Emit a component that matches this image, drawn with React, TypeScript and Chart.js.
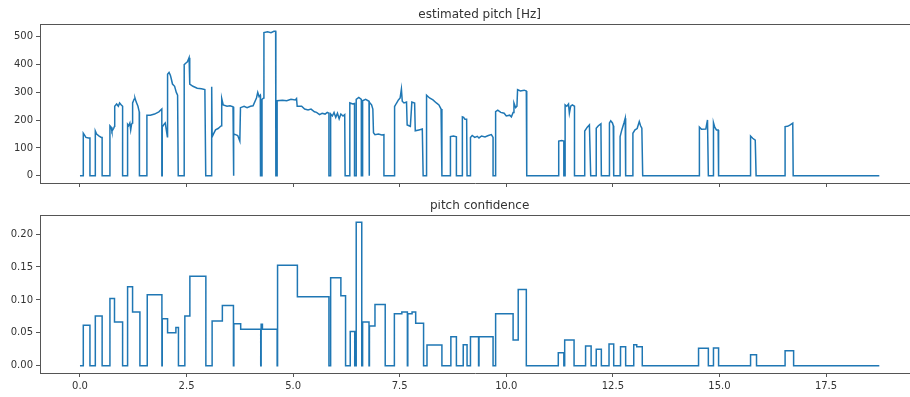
import React, { useEffect, useRef } from "react";
import { Chart, registerables } from "chart.js";

Chart.register(...registerables);

const BLUE = "#1f77b4";
const INK = "#333333";
const SPINE = "#555555";
const FONT_FAMILY = "DejaVu Sans";

// time axis (seconds)
const X_MIN = -0.9375;
const X_VIEW_MAX = 19.47;
const X_AXIS_MAX = 19.6875;
const timeTicks = [0, 2.5, 5, 7.5, 10, 12.5, 15, 17.5];

const pitchTicks = [0, 100, 200, 300, 400, 500];
const PITCH_MIN = -26;
const PITCH_MAX = 546;

const confTicks = [0, 0.05, 0.1, 0.15, 0.2];
const CONF_MIN = -0.0109;
const CONF_MAX = 0.2289;

// estimated pitch contour: time [s] and frequency [Hz], 0 = unvoiced
const pitchTimes = [
  0, 0.078, 0.078, 0.1, 0.14, 0.2, 0.234, 0.234,
  0.36, 0.36, 0.39, 0.45, 0.5, 0.52, 0.52,
  0.703, 0.703, 0.73, 0.75, 0.79, 0.81, 0.815, 0.86, 0.9, 0.93, 0.97, 1.0, 1.0,
  1.117, 1.117, 1.14, 1.17, 1.19, 1.21, 1.23, 1.235, 1.27, 1.29, 1.32, 1.36, 1.39, 1.395,
  1.57, 1.57, 1.65, 1.75, 1.85, 1.92, 1.92, 1.93, 1.93, 1.97, 2.0, 2.05, 2.055, 2.09, 2.12, 2.14, 2.17, 2.22, 2.26, 2.29, 2.305,
  2.445, 2.445, 2.48, 2.52, 2.56, 2.575, 2.65, 2.75, 2.85, 2.93, 2.95,
  3.09, 3.09, 3.1, 3.13, 3.18, 3.24, 3.3, 3.32, 3.325, 3.36, 3.45, 3.52, 3.59, 3.595,
  3.61, 3.61, 3.65, 3.7, 3.75, 3.765, 3.85, 3.92, 4.0, 4.06, 4.14, 4.17, 4.2, 4.23, 4.235,
  4.27, 4.27, 4.31, 4.315, 4.4, 4.48, 4.55, 4.59, 4.595,
  4.625, 4.625, 4.75, 4.85, 4.95, 5.05, 5.08, 5.095, 5.2, 5.27, 5.35, 5.42, 5.5, 5.55, 5.62, 5.68, 5.75, 5.8, 5.84, 5.84,
  5.88, 5.88, 5.92, 5.96, 6.0, 6.04, 6.08, 6.12, 6.17, 6.21, 6.22,
  6.33, 6.33, 6.4, 6.44, 6.44, 6.48, 6.48, 6.54, 6.6, 6.6, 6.63, 6.63, 6.7, 6.78, 6.78,
  6.79, 6.79, 6.84, 6.87, 6.885, 6.92, 7.0, 7.08, 7.13, 7.13,
  7.38, 7.38, 7.42, 7.47, 7.51, 7.54, 7.56, 7.6, 7.66, 7.675, 7.75, 7.785, 7.85, 7.865, 7.95, 8.03, 8.05,
  8.13, 8.13, 8.2, 8.28, 8.36, 8.42, 8.47, 8.49,
  8.69, 8.69, 8.76, 8.83, 8.83,
  8.97, 8.97, 9.0, 9.03, 9.07, 9.08,
  9.16, 9.16, 9.2, 9.26, 9.32, 9.36, 9.42, 9.5, 9.58, 9.65, 9.69, 9.69,
  9.75, 9.75, 9.8, 9.87, 9.95, 10.0, 10.08, 10.12, 10.16, 10.18, 10.22, 10.25, 10.265, 10.33, 10.42, 10.47, 10.48,
  11.23, 11.23, 11.3, 11.35, 11.35, 11.38, 11.38, 11.42, 11.46, 11.48, 11.51, 11.55, 11.6, 11.6,
  11.84, 11.84, 11.9, 11.95, 11.98,
  12.11, 12.11, 12.16, 12.22, 12.23,
  12.42, 12.42, 12.45, 12.49, 12.51, 12.52,
  12.67, 12.67, 12.71, 12.76, 12.79, 12.8,
  12.97, 12.97, 13.02, 13.07, 13.12, 13.15, 13.18, 13.2,
  14.53, 14.53, 14.58, 14.68, 14.72, 14.74, 14.86, 14.86, 14.89, 14.93, 14.97, 14.98,
  15.73, 15.73, 15.78, 15.84, 15.86,
  16.54, 16.54, 16.6, 16.66, 16.72, 16.73, 18.75,
];

const pitchHz = [
  0, 0, 153, 148, 138, 136, 136, 0,
  0, 161, 150, 143, 138, 138, 0,
  0, 180, 175, 160, 170, 178, 250, 258, 250, 262, 255, 250, 0,
  0, 185, 180, 190, 165, 185, 190, 262, 275, 280, 265, 250, 230, 0,
  0, 218, 218, 222, 230, 240, 0, 0, 175, 185, 190, 140, 365, 372, 362, 350, 330, 322, 300, 290, 0,
  0, 400, 405, 410, 425, 330, 322, 315, 313, 310, 0,
  0, 320, 140, 150, 165, 170, 178, 180, 278, 255, 250, 252, 248, 0,
  0, 150, 148, 145, 125, 245, 250, 245, 250, 252, 280, 300, 285, 290, 0,
  0, 275, 280, 515, 518, 515, 520, 520, 0,
  0, 270, 272, 270, 275, 273, 278, 250, 250, 240, 237, 240, 230, 228, 220, 225, 222, 228, 225, 0,
  0, 222, 215, 228, 210, 225, 205, 222, 215, 220, 0,
  0, 262, 258, 260, 0, 0, 275, 282, 275, 0, 0, 270, 275, 268, 0,
  0, 265, 255, 240, 155, 148, 150, 147, 148, 0,
  0, 249, 260, 273, 280, 312, 268, 262, 265, 183, 178, 265, 262, 162, 165, 168, 0,
  0, 290, 280, 273, 262, 255, 240, 0,
  0, 141, 143, 140, 0,
  0, 212, 210, 203, 203, 0,
  0, 138, 145, 138, 142, 136, 143, 140, 145, 148, 138, 0,
  0, 231, 236, 228, 225, 215, 218, 212, 228, 262, 245, 250, 310, 305, 308, 305, 0,
  0, 125, 127, 125, 0, 0, 255, 250, 258, 225, 250, 255, 250, 0,
  0, 161, 175, 183, 0,
  0, 171, 180, 187, 0,
  0, 190, 198, 190, 180, 0,
  0, 141, 165, 190, 207, 0,
  0, 153, 165, 170, 195, 180, 171, 0,
  0, 175, 167, 168, 201, 0, 0, 191, 175, 165, 165, 0,
  0, 143, 135, 128, 0,
  0, 177, 178, 183, 189, 0, 0,
];

// pitch confidence: level holds from each time until the next one
const confTimes = [
  0, 0.078, 0.234, 0.36, 0.52, 0.703, 0.81, 1.0, 1.117, 1.234, 1.406,
  1.578, 1.922, 1.93, 2.055, 2.25, 2.31, 2.46, 2.578, 2.953,
  3.1, 3.34, 3.6, 3.61, 3.77, 4.24, 4.25, 4.28, 4.625, 4.635, 5.1,
  5.84, 5.88, 6.12, 6.23, 6.34, 6.445, 6.48, 6.61, 6.63, 6.78, 6.79, 6.92, 7.16,
  7.375, 7.55, 7.68, 7.69, 7.79, 7.875, 8.06, 8.14, 8.49, 8.7, 8.83, 8.99, 9.08,
  9.16, 9.35, 9.36, 9.69, 9.75, 10.16, 10.28, 10.47,
  11.22, 11.35, 11.37, 11.59, 11.86, 11.99, 12.11, 12.23, 12.41, 12.52,
  12.68, 12.8, 12.99, 13.06, 13.19,
  14.51, 14.74, 14.86, 14.98, 15.73, 15.87, 16.54, 16.74, 18.75,
];

const confValues = [
  0, 0.0615, 0, 0.0755, 0, 0.102, 0.0665, 0, 0.12, 0.0815, 0,
  0.108, 0, 0.0715, 0.05, 0.058, 0, 0.0755, 0.136, 0,
  0.068, 0.0917, 0, 0.064, 0.0555, 0, 0.063, 0.0555, 0, 0.1525, 0.105,
  0, 0.1335, 0.1065, 0, 0.052, 0, 0.218, 0, 0.0665, 0, 0.0605, 0.093, 0,
  0.079, 0.0815, 0, 0.079, 0.0815, 0.0645, 0, 0.0317, 0, 0.044, 0, 0.032, 0,
  0.044, 0, 0.044, 0, 0.079, 0.039, 0.1158, 0,
  0.02, 0, 0.039, 0, 0.03, 0, 0.025, 0, 0.033, 0,
  0.029, 0, 0.032, 0.029, 0,
  0.0267, 0, 0.027, 0, 0.0167, 0, 0.0227, 0, 0,
];

type Panel = {
  title: string;
  times: number[];
  values: number[];
  stepped: false | "before";
  yMin: number;
  yMax: number;
  yTicks: number[];
  yFormat: (v: number) => string;
  showXLabels: boolean;
  padTop: number;
  xAxisHeight: number;
  width: number;
  height: number;
};

const tickFont = { family: FONT_FAMILY, size: 10 };

function frameAndTitle(title: string) {
  return {
    id: "frameAndTitle",
    afterDraw(chart: any) {
      const { ctx, chartArea } = chart;
      const xs = chart.scales.x;
      ctx.save();
      ctx.strokeStyle = SPINE;
      ctx.lineWidth = 1;
      ctx.beginPath();
      ctx.moveTo(chartArea.left, chartArea.top + 0.5);
      ctx.lineTo(chartArea.right, chartArea.top + 0.5);
      ctx.stroke();
      const cx = (xs.getPixelForValue(X_MIN) + xs.getPixelForValue(X_AXIS_MAX)) / 2;
      ctx.fillStyle = INK;
      ctx.font = `12px "${FONT_FAMILY}"`;
      ctx.textAlign = "center";
      ctx.textBaseline = "alphabetic";
      ctx.fillText(title, cx, chartArea.top - 6);
      ctx.restore();
    },
  };
}

function PanelChart(p: Panel) {
  const ref = useRef<HTMLCanvasElement | null>(null);
  useEffect(() => {
    if (!ref.current) return;
    const points = p.times.map((t, i) => ({ x: t, y: p.values[i] }));
    const chart = new Chart(ref.current, {
      type: "line",
      data: {
        datasets: [
          {
            data: points,
            borderColor: BLUE,
            borderWidth: 1.5,
            pointRadius: 0,
            fill: false,
            tension: 0,
            stepped: p.stepped,
          },
        ],
      },
      options: {
        animation: false,
        responsive: false,
        maintainAspectRatio: false,
        events: [],
        layout: { padding: { top: p.padTop, left: 0, right: 0, bottom: 0 } },
        plugins: { legend: { display: false }, tooltip: { enabled: false }, title: { display: false } },
        scales: {
          x: {
            type: "linear",
            min: X_MIN,
            max: X_VIEW_MAX,
            afterBuildTicks: (s: any) => {
              s.ticks = timeTicks.map((v) => ({ value: v }));
            },
            afterFit: (s: any) => {
              s.height = p.xAxisHeight;
            },
            grid: { display: true, drawOnChartArea: false, drawTicks: true, tickLength: 4, color: SPINE },
            border: { display: true, color: SPINE, width: 1 },
            ticks: {
              display: true,
              autoSkip: false,
              maxRotation: 0,
              padding: 3,
              font: tickFont,
              color: p.showXLabels ? INK : "rgba(0,0,0,0)",
              callback: (v: any) => Number(v).toFixed(1),
            },
          },
          y: {
            type: "linear",
            min: p.yMin,
            max: p.yMax,
            afterBuildTicks: (s: any) => {
              s.ticks = p.yTicks.map((v) => ({ value: v }));
            },
            afterFit: (s: any) => {
              s.width = 40;
            },
            grid: { display: true, drawOnChartArea: false, drawTicks: true, tickLength: 4, color: SPINE },
            border: { display: true, color: SPINE, width: 1 },
            ticks: {
              autoSkip: false,
              padding: 3,
              font: tickFont,
              color: INK,
              callback: (v: any) => p.yFormat(Number(v)),
            },
          },
        },
      },
      plugins: [frameAndTitle(p.title)],
    } as any);
    return () => chart.destroy();
  }, []);
  return (
    <canvas
      ref={ref}
      width={p.width}
      height={p.height}
      style={{ display: "block", width: p.width, height: p.height }}
    />
  );
}

export default function App() {
  return (
    <div
      style={{
        position: "absolute",
        left: 0,
        top: 0,
        width: 910,
        height: 397,
        overflow: "hidden",
        background: "#ffffff",
      }}
    >
      <PanelChart
        title="estimated pitch [Hz]"
        times={pitchTimes}
        values={pitchHz}
        stepped={false}
        yMin={PITCH_MIN}
        yMax={PITCH_MAX}
        yTicks={pitchTicks}
        yFormat={(v) => String(Math.round(v))}
        showXLabels={false}
        padTop={24}
        xAxisHeight={17}
        width={910}
        height={200}
      />
      <PanelChart
        title="pitch confidence"
        times={confTimes}
        values={confValues}
        stepped="before"
        yMin={CONF_MIN}
        yMax={CONF_MAX}
        yTicks={confTicks}
        yFormat={(v) => v.toFixed(2)}
        showXLabels={true}
        padTop={15}
        xAxisHeight={24}
        width={910}
        height={197}
      />
    </div>
  );
}
